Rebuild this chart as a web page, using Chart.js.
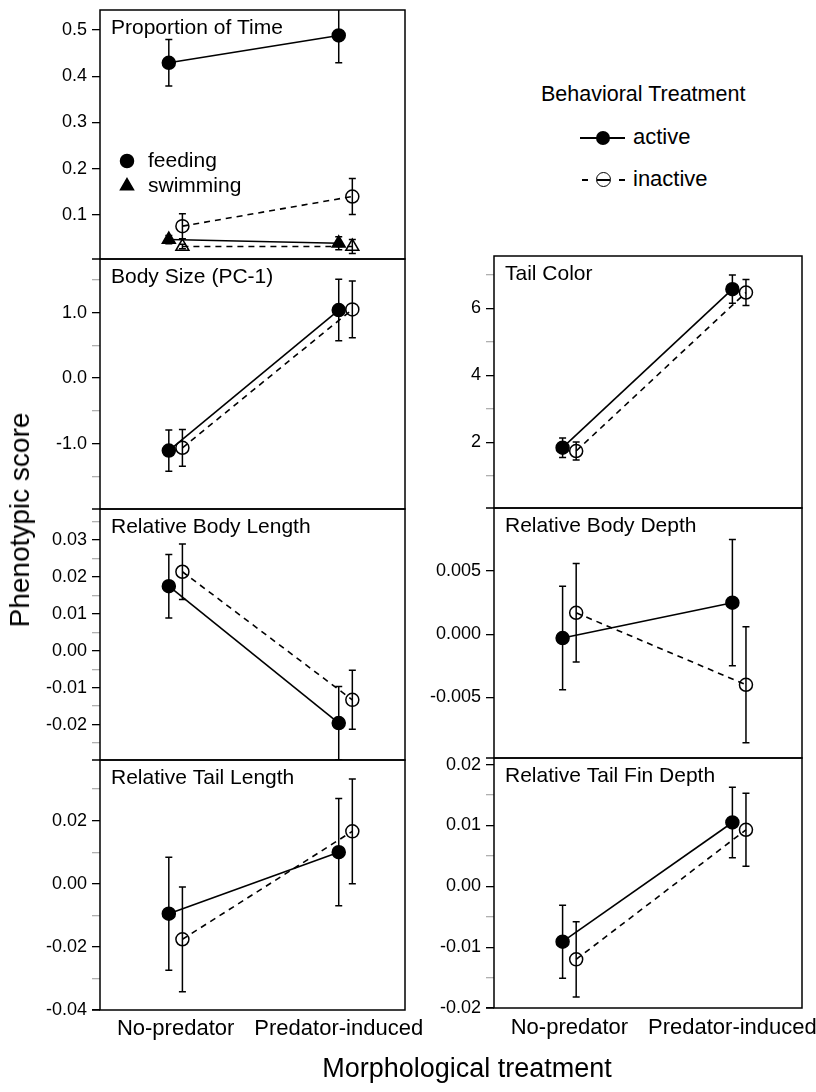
<!DOCTYPE html>
<html>
<head>
<meta charset="utf-8">
<script src="https://cdn.jsdelivr.net/npm/chart.js@4.4.1/dist/chart.umd.min.js"></script>
<style>
    body { margin: 0; background: #fff; }
    #wrap { position: relative; width: 816px; height: 1092px; overflow: hidden; font-family: 'Liberation Sans', Arial, sans-serif; color: #000; }
    canvas { position: absolute; }
    .txt { position: absolute; white-space: nowrap; line-height: 1; }
    .sym { position: absolute; background: #000; }
</style>
</head>
<body>
<div id="wrap">
    <canvas id="propChart"></canvas>
    <canvas id="sizeChart"></canvas>
    <canvas id="bodyLengthChart"></canvas>
    <canvas id="tailLengthChart"></canvas>
    <canvas id="tailColorChart"></canvas>
    <canvas id="bodyDepthChart"></canvas>
    <canvas id="finDepthChart"></canvas>

    <div class="txt" id="yTitle" style="left:20px; top:520px; font-size:28px; transform:translate(-50%,-50%) rotate(-90deg);">Phenotypic score</div>
    <div class="txt" id="xTitle" style="left:467px; top:1068px; font-size:27px; transform:translate(-50%,-50%);">Morphological treatment</div>

    <!-- 行為處理圖例 -->
    <div class="txt" style="left:541px; top:84px; font-size:21.5px;">Behavioral Treatment</div>
    <div class="sym" style="left:580px; top:137px; width:45px; height:1.6px;"></div>
    <div class="sym" style="left:596px; top:131px; width:14px; height:14px; border-radius:50%;"></div>
    <div class="txt" style="left:633px; top:126px; font-size:22px;">active</div>
    <div class="sym" style="left:582px; top:179px; width:6px; height:1.6px;"></div>
    <div style="position:absolute; left:596px; top:172px; width:15px; height:15px; border:1.5px solid #000; border-radius:50%; box-sizing:border-box;"></div>
    <div class="sym" style="left:597px; top:179px; width:13px; height:1.5px;"></div>
    <div class="sym" style="left:619px; top:179px; width:6px; height:1.6px;"></div>
    <div class="txt" style="left:633px; top:168px; font-size:22px;">inactive</div>
</div>
<script>
// 類別與數值
const morphTreatments = ['No-predator', 'Predator-induced'];

// Proportion of Time
const feedActiveMean = [0.429, 0.488];
const feedActiveSE = [0.050, 0.059];
const feedInactiveMean = [0.076, 0.140];
const feedInactiveSE = [0.027, 0.039];
const swimActiveMean = [0.047, 0.039];
const swimActiveSE = [0.009, 0.014];
const swimInactiveMean = [0.032, 0.032];
const swimInactiveSE = [0.005, 0.015];
const propTicks = [0.1, 0.2, 0.3, 0.4, 0.5];

// Body Size (PC-1)
const sizeActiveMean = [-1.107, 1.040];
const sizeActiveSE = [0.315, 0.470];
const sizeInactiveMean = [-1.065, 1.050];
const sizeInactiveSE = [0.280, 0.435];
const sizeTicks = [-1.0, 0.0, 1.0];
const sizeMinorTicks = [-1.5, -0.5, 0.5, 1.5];

// Relative Body Length
const bodyLenActiveMean = [0.0175, -0.0196];
const bodyLenActiveSE = [0.0086, 0.0099];
const bodyLenInactiveMean = [0.0214, -0.0133];
const bodyLenInactiveSE = [0.0075, 0.0080];
const bodyLenTicks = [-0.02, -0.01, 0.00, 0.01, 0.02, 0.03];
const bodyLenMinorTicks = [-0.025, -0.015, -0.005, 0.005, 0.015, 0.025, 0.035];

// Relative Tail Length
const tailLenActiveMean = [-0.0095, 0.0100];
const tailLenActiveSE = [0.0179, 0.0170];
const tailLenInactiveMean = [-0.0176, 0.0166];
const tailLenInactiveSE = [0.0166, 0.0166];
const tailLenTicks = [-0.04, -0.02, 0.00, 0.02];
const tailLenMinorTicks = [-0.03, -0.01, 0.01, 0.03];

// Tail Color
const colorActiveMean = [1.84, 6.57];
const colorActiveSE = [0.29, 0.42];
const colorInactiveMean = [1.74, 6.47];
const colorInactiveSE = [0.27, 0.39];
const colorTicks = [2, 4, 6];
const colorMinorTicks = [1, 3, 5, 7];

// Relative Body Depth
const depthActiveMean = [-0.0003, 0.0025];
const depthActiveSE = [0.0041, 0.0050];
const depthInactiveMean = [0.0017, -0.0040];
const depthInactiveSE = [0.0039, 0.0046];
const depthTicks = [-0.005, 0.000, 0.005];

// Relative Tail Fin Depth
const finActiveMean = [-0.0091, 0.0105];
const finActiveSE = [0.0060, 0.0058];
const finInactiveMean = [-0.0120, 0.0093];
const finInactiveSE = [0.0062, 0.0060];
const finTicks = [-0.02, -0.01, 0.00, 0.01, 0.02];
const finMinorTicks = [-0.015, -0.005, 0.005, 0.015];

Chart.defaults.font.family = "'Liberation Sans', Arial, sans-serif";
Chart.defaults.color = '#000';

const AXW = 70;   // y 軸寬度
const PAD = 22;
const XH = 45;    // x 軸高度
const inactiveShift = 0.08;
const labelShift = [0.04, 0];   // x 軸標籤微調
const columns = {
    left: { left: 100, width: 305, padR: 40, xMin: 0.595, xMax: 2.39, labelPad: 6 },
    right: { left: 494, width: 308, padR: 40, xMin: 0.596, xMax: 2.41, labelPad: 7 }
};

// 誤差線
const errorBars = {
    id: 'errorBars',
    beforeDatasetsDraw(chart) {
        const { ctx, chartArea: a, scales: { y } } = chart;
        ctx.save();
        ctx.beginPath();
        ctx.rect(a.left, a.top, a.right - a.left, a.bottom - a.top);
        ctx.clip();
        ctx.strokeStyle = '#000';
        ctx.lineWidth = 1.5;
        chart.data.datasets.forEach((ds, di) => {
            chart.getDatasetMeta(di).data.forEach((pt, i) => {
                const v = ds.data[i].y, e = ds.se[i];
                const y1 = y.getPixelForValue(v + e), y2 = y.getPixelForValue(v - e);
                ctx.beginPath();
                ctx.moveTo(pt.x, y1); ctx.lineTo(pt.x, y2);
                ctx.moveTo(pt.x - 3.5, y1); ctx.lineTo(pt.x + 3.5, y1);
                ctx.moveTo(pt.x - 3.5, y2); ctx.lineTo(pt.x + 3.5, y2);
                ctx.stroke();
            });
        });
        ctx.restore();
    }
};

// 外框與標題
const frame = {
    id: 'frame',
    afterDraw(chart, args, opts) {
        const { ctx, chartArea: a } = chart;
        ctx.save();
        ctx.strokeStyle = '#000';
        ctx.lineWidth = 1.5;
        ctx.strokeRect(a.left, a.top, a.right - a.left, a.bottom - a.top);
        ctx.beginPath();
        ctx.moveTo(a.left - 8, a.bottom); ctx.lineTo(a.left, a.bottom);
        ctx.stroke();
        ctx.fillStyle = '#000';
        ctx.font = "21px 'Liberation Sans', Arial, sans-serif";
        ctx.textBaseline = 'alphabetic';
        ctx.fillText(opts.title, a.left + 11, a.top + 24);
        (opts.items || []).forEach((it, k) => {
            const cy = a.top + 151 + k * 25;
            Chart.helpers.drawPoint(ctx, { pointStyle: it.style, radius: it.style === 'triangle' ? 7.5 : 6.5, borderWidth: 1.5, rotation: 0 }, a.left + 27, cy);
            ctx.font = "21px 'Liberation Sans', Arial, sans-serif";
            ctx.fillText(it.label, a.left + 48, a.top + 157 + k * 25);
        });
        ctx.restore();
    }
};

function makeSeries(mean, se, inactive, shape) {
    return {
        data: mean.map((v, i) => ({ x: i + 1 + (inactive ? inactiveShift : 0), y: v })),
        se: se,
        showLine: true,
        borderColor: '#000',
        borderWidth: 1.6,
        borderDash: inactive ? [6, 5] : [],
        pointStyle: shape,
        pointRadius: shape === 'triangle' ? 7.5 : 6.5,
        pointBackgroundColor: inactive ? 'rgba(0,0,0,0)' : '#000',
        pointBorderColor: '#000',
        pointBorderWidth: 1.5
    };
}

function makePanel(p) {
    const col = columns[p.col];
    const canvas = document.getElementById(p.id);
    const h = p.bottom - p.top;
    canvas.width = AXW + col.width + col.padR;
    canvas.height = PAD + h + (p.isBottom ? XH : PAD);
    canvas.style.left = (col.left - AXW) + 'px';
    canvas.style.top = (p.top - PAD) + 'px';
    const tickList = p.majors.map(v => ({ value: v }))
        .concat((p.minors || []).map(v => ({ value: v, minor: true })))
        .sort((a, b) => a.value - b.value);

    new Chart(canvas, {
        type: 'scatter',
        data: { datasets: p.series },
        options: {
            responsive: false,
            animation: false,
            devicePixelRatio: 1,
            layout: { autoPadding: false, padding: { top: PAD, bottom: p.isBottom ? 0 : PAD, left: 0, right: col.padR } },
            plugins: {
                legend: { display: false },
                tooltip: { enabled: false },
                frame: { title: p.title, items: p.items }
            },
            scales: {
                x: {
                    type: 'linear',
                    min: col.xMin,
                    max: col.xMax,
                    display: !!p.isBottom,
                    grid: { display: false, drawTicks: false },
                    border: { display: false },
                    afterBuildTicks: s => { s.ticks = morphTreatments.map((c, i) => ({ value: i + 1 + labelShift[i] })); },
                    afterFit: s => { s.height = p.isBottom ? XH : 0; },
                    ticks: {
                        autoSkip: false,
                        maxRotation: 0,
                        padding: col.labelPad,
                        font: { size: 22 },
                        callback: (v, i) => morphTreatments[i]
                    }
                },
                y: {
                    min: p.yMin,
                    max: p.yMax,
                    afterFit: s => { s.width = AXW; },
                    afterBuildTicks: s => { s.ticks = tickList.map(t => Object.assign({}, t)); },
                    grid: {
                        drawOnChartArea: false,
                        tickLength: 8,
                        lineWidth: 1.3,
                        color: c => (c.tick && c.tick.minor) ? '#b0b0b0' : '#000'
                    },
                    border: { display: false },
                    ticks: {
                        autoSkip: false,
                        padding: 5,
                        font: { size: 18 },
                        callback: (v, i, t) => t[i].minor ? '' : v.toFixed(p.digits)
                    }
                }
            }
        },
        plugins: [errorBars, frame]
    });
}

makePanel({
    id: 'propChart', col: 'left', top: 10, bottom: 259,
    title: 'Proportion of Time', yMin: 0.005, yMax: 0.543, majors: propTicks, digits: 1,
    items: [{ label: 'feeding', style: 'circle' }, { label: 'swimming', style: 'triangle' }],
    series: [
        makeSeries(feedActiveMean, feedActiveSE, false, 'circle'),
        makeSeries(feedInactiveMean, feedInactiveSE, true, 'circle'),
        makeSeries(swimActiveMean, swimActiveSE, false, 'triangle'),
        makeSeries(swimInactiveMean, swimInactiveSE, true, 'triangle')
    ]
});

makePanel({
    id: 'sizeChart', col: 'left', top: 259, bottom: 509,
    title: 'Body Size (PC-1)', yMin: -2.0, yMax: 1.82, majors: sizeTicks, minors: sizeMinorTicks, digits: 1,
    series: [
        makeSeries(sizeActiveMean, sizeActiveSE, false, 'circle'),
        makeSeries(sizeInactiveMean, sizeInactiveSE, true, 'circle')
    ]
});

makePanel({
    id: 'bodyLengthChart', col: 'left', top: 509, bottom: 760,
    title: 'Relative Body Length', yMin: -0.0296, yMax: 0.0384, majors: bodyLenTicks, minors: bodyLenMinorTicks, digits: 2,
    series: [
        makeSeries(bodyLenActiveMean, bodyLenActiveSE, false, 'circle'),
        makeSeries(bodyLenInactiveMean, bodyLenInactiveSE, true, 'circle')
    ]
});

makePanel({
    id: 'tailLengthChart', col: 'left', top: 760, bottom: 1010, isBottom: true,
    title: 'Relative Tail Length', yMin: -0.04, yMax: 0.0392, majors: tailLenTicks, minors: tailLenMinorTicks, digits: 2,
    series: [
        makeSeries(tailLenActiveMean, tailLenActiveSE, false, 'circle'),
        makeSeries(tailLenInactiveMean, tailLenInactiveSE, true, 'circle')
    ]
});

makePanel({
    id: 'tailColorChart', col: 'right', top: 256, bottom: 508,
    title: 'Tail Color', yMin: 0.04, yMax: 7.56, majors: colorTicks, minors: colorMinorTicks, digits: 0,
    series: [
        makeSeries(colorActiveMean, colorActiveSE, false, 'circle'),
        makeSeries(colorInactiveMean, colorInactiveSE, true, 'circle')
    ]
});

makePanel({
    id: 'bodyDepthChart', col: 'right', top: 508, bottom: 758,
    title: 'Relative Body Depth', yMin: -0.0098, yMax: 0.0100, majors: depthTicks, digits: 3,
    series: [
        makeSeries(depthActiveMean, depthActiveSE, false, 'circle'),
        makeSeries(depthInactiveMean, depthInactiveSE, true, 'circle')
    ]
});

makePanel({
    id: 'finDepthChart', col: 'right', top: 758, bottom: 1008, isBottom: true,
    title: 'Relative Tail Fin Depth', yMin: -0.02, yMax: 0.0211, majors: finTicks, minors: finMinorTicks, digits: 2,
    series: [
        makeSeries(finActiveMean, finActiveSE, false, 'circle'),
        makeSeries(finInactiveMean, finInactiveSE, true, 'circle')
    ]
});
</script>
</body>
</html>
